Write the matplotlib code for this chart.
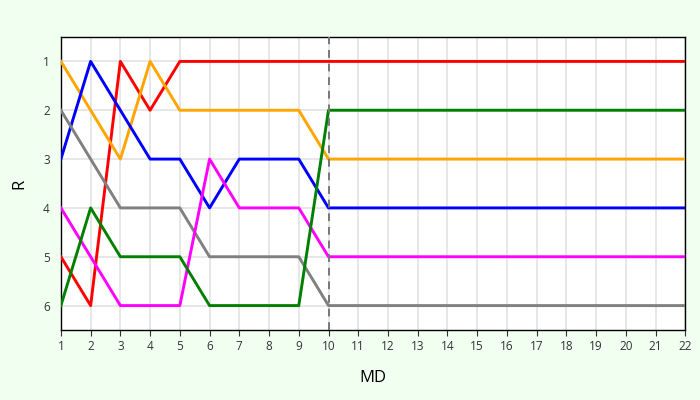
import matplotlib
matplotlib.use("Agg")
from matplotlib import pyplot as plt

plt.rcParams['font.family'] = ['Open Sans', 'DejaVu Sans']

md = list(range(1, 23))
red = [5, 6, 1, 2, 1, 1, 1, 1, 1, 1] + [1] * 12
orange = [1, 2, 3, 1, 2, 2, 2, 2, 2, 3] + [3] * 12
blue = [3, 1, 2, 3, 3, 4, 3, 3, 3, 4] + [4] * 12
gray = [2, 3, 4, 4, 4, 5, 5, 5, 5, 6] + [6] * 12
magenta = [4, 5, 6, 6, 6, 3, 4, 4, 4, 5] + [5] * 12
green = [6, 4, 5, 5, 5, 6, 6, 6, 6, 2] + [2] * 12

series = [
    (red, 'red'),
    (orange, 'orange'),
    (blue, 'blue'),
    (gray, 'gray'),
    (magenta, 'magenta'),
    (green, 'green'),
]

fig = plt.figure(figsize=(7, 4), dpi=100, facecolor='#f0fff0')
ax = fig.add_axes([0.087, 0.175, 0.892, 0.7325])
ax.set_facecolor('white')

for vals, col in series:
    ax.plot(md, vals, color=col, lw=2.1, zorder=3)

ax.axvline(10, color='#777777', lw=1.4, ls=(0, (4, 3)), zorder=4)

ax.set_xlim(1, 22)
ax.set_ylim(6.5, 0.5)
ax.set_xticks(md)
ax.set_yticks([1, 2, 3, 4, 5, 6])
ax.grid(True, color='#e3e3e3', lw=1.2, zorder=0)
ax.tick_params(labelsize=8.5, colors='#333333', length=4)
ax.tick_params(axis='y', length=0, pad=8)
for s in ax.spines.values():
    s.set_linewidth(1)
    s.set_color('black')

ax.set_xlabel('MD', fontsize=12, labelpad=12)
ax.set_ylabel('R', fontsize=12, labelpad=11)

fig.savefig('out.png', dpi=100, facecolor=fig.get_facecolor())
